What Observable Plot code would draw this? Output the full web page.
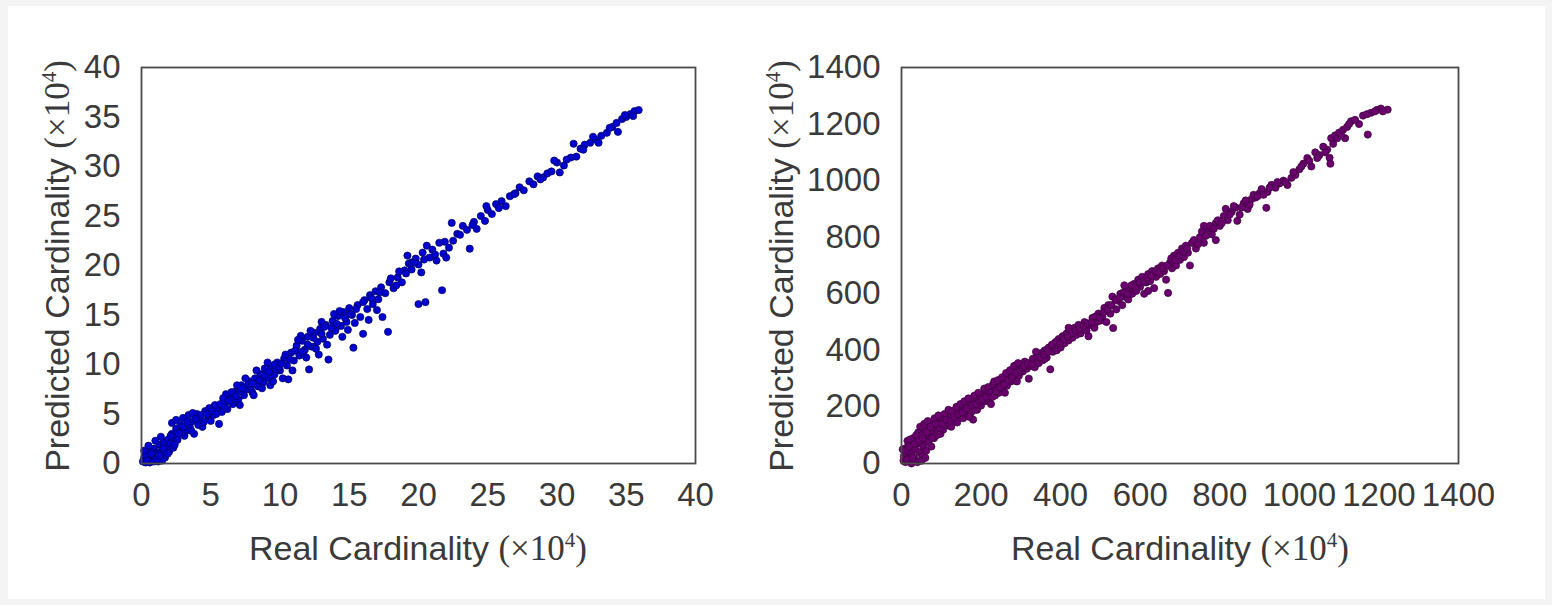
<!DOCTYPE html>
<html>
<head>
<meta charset="utf-8">
<script src="https://cdn.jsdelivr.net/npm/d3@7"></script>
<script src="https://cdn.jsdelivr.net/npm/@observablehq/plot@0.6"></script>
<style>
  html, body { margin: 0; padding: 0; background: #f4f4f4; }
  #page { position: relative; width: 1552px; height: 605px; overflow: hidden; }
  #card { position: absolute; left: 8px; top: 6px; width: 1537px; height: 593px; background: #fff; }
  .chart { position: absolute; top: 0; }
  .lab { position: absolute; font-family: 'Liberation Sans', Arial, sans-serif; font-size: 34px; color: #3a3a3a; white-space: nowrap; line-height: 1; }
  .lab .tex { font-family: 'Liberation Serif', 'DejaVu Serif', serif; font-size: 35px; }
  .lab .sup { font-size: 21px; position: relative; top: -13px; }
  .xlab { transform: translate(-50%, -50%); }
  .ylab { transform: translate(-50%, -50%) rotate(-90deg); }
</style>
</head>
<body>
<div id="page">
  <div id="card"></div>
  <div id="left" class="chart" style="left:0px"></div>
  <div id="right" class="chart" style="left:776px"></div>
</div>
<script>
// ---- data (units: ×10^4) ----
const leftTicks = [0, 5, 10, 15, 20, 25, 30, 35, 40];
const rightTicks = [0, 200, 400, 600, 800, 1000, 1200, 1400];

// [real, predicted] pairs, left panel
const leftPoints = [
  [0.1,0.2],[0.2,0.6],[0.3,0.1],[0.4,0.9],[0.5,0.4],[0.6,1.2],[0.7,0.3],[0.8,0.8],[0.9,1.5],[1.0,0.5],
  [1.1,1.1],[1.2,0.2],[1.3,1.9],[1.4,0.9],[1.5,1.4],[1.6,2.1],[1.7,0.6],[1.8,1.6],[1.9,2.4],[2.0,1.2],
  [2.1,2.0],[2.2,3.0],[2.3,1.6],[2.4,2.6],[2.5,3.5],[0.3,0.7],[0.6,0.1],[0.9,0.2],[1.2,1.0],[1.5,0.3],
  [0.2,1.3],[0.5,1.8],[1.0,2.3],[1.4,2.7],[0.8,1.1],[1.7,1.2],
  [2.2,4.1],[2.5,4.4],[2.8,3.9],[3.0,4.6],[3.2,3.3],[3.4,4.9],[3.6,4.2],[3.8,3.0],[4.0,5.0],[4.2,4.4],
  [4.4,3.7],[4.6,5.3],[4.8,4.8],[5.0,4.3],[2.6,2.4],[3.1,2.8],[3.5,3.6],[2.9,3.2],[4.1,3.9],[4.9,5.6],
  [5.2,4.9],[5.6,4.0],[3.7,5.1],
  [5.5,5.6],[5.8,5.2],[6.0,6.2],[6.2,5.5],[6.4,6.8],[6.6,6.0],[6.8,7.3],[7.0,6.5],[7.2,7.9],[7.4,6.9],
  [7.6,7.5],[7.8,8.3],[8.0,7.2],[8.2,8.6],[8.4,7.8],[8.6,9.0],[8.8,8.2],[9.0,9.4],[9.2,8.6],[9.4,9.8],
  [9.6,9.0],[9.8,10.2],[10.0,9.4],[6.1,7.0],[6.9,7.9],[7.5,8.6],[8.3,9.4],[9.1,10.2],[7.1,5.9],[8.1,6.9],
  [9.3,7.9],[6.7,6.5],[7.9,7.8],[8.9,8.9],[9.7,9.5],[5.3,5.9],[5.9,6.6],[9.5,8.3],[8.7,7.6],[10.2,8.6],
  [10.3,10.6],[10.5,9.9],[10.6,8.5],[10.8,11.2],[11.0,10.4],[11.2,11.9],[11.4,10.9],[11.6,12.4],[11.8,11.5],[12.0,12.8],
  [12.1,9.5],[12.3,11.8],[12.5,13.2],[12.7,12.3],[12.9,13.6],[13.1,12.6],[13.3,14.0],[13.5,10.5],[13.6,13.0],[13.8,14.4],
  [14.0,13.4],[14.2,14.9],[14.4,13.9],[14.6,15.3],[14.8,14.3],[15.0,15.7],[15.3,11.7],[11.5,12.9],[12.2,13.4],[13.0,14.3],
  [13.9,15.1],[14.5,12.8],[11.9,10.7],[12.8,11.0],[10.9,9.4],[13.4,12.0],[14.9,13.5],[11.7,11.0],[15.2,15.0],[15.4,14.2],
  [15.6,16.0],[15.8,14.8],[16.0,13.1],[16.1,16.5],[16.3,15.6],[16.5,17.0],[16.7,16.1],[16.9,17.4],[17.1,16.6],[17.4,14.8],
  [17.3,17.8],[17.6,17.2],[17.8,13.3],[17.9,18.3],[18.2,17.7],[18.5,18.8],[18.8,18.3],[19.0,19.5],[19.3,20.2],[19.5,19.6],
  [19.8,20.7],[20.0,20.1],[19.2,21.0],[18.6,19.4],[16.4,14.5],[17.0,15.5],
  [20.0,16.1],[20.5,16.3],[21.7,17.5],[19.5,20.3],[20.3,21.3],[20.6,22.0],[21.0,21.6],[21.3,20.5],[21.5,22.3],[21.8,21.2],
  [22.2,21.8],[20.8,20.8],[22.5,22.5],[22.0,20.8],[20.2,19.3],
  [22.8,23.2],[23.2,24.0],[23.7,21.7],[24.0,24.4],[24.2,23.7],[23.5,23.6],[24.5,25.0],[24.8,24.5],[25.0,25.6],[25.3,25.2],
  [25.6,26.2],[26.0,26.5],[26.3,26.0],[26.6,27.0],[27.0,27.3],[22.4,24.3],[24.9,26.0],
  [27.3,27.9],[27.6,27.6],[28.0,28.5],[28.3,28.2],[28.6,29.0],[29.0,28.9],[29.3,29.3],[29.6,29.5],[30.0,30.4],[30.5,30.1],
  [31.0,30.9],[31.2,32.3],[31.4,31.0],[31.7,31.8],[32.0,32.2],[32.4,32.4],[32.8,32.7],[33.2,33.1],[33.6,33.4],[34.0,34.0],
  [34.4,33.5],[34.3,34.4],[34.7,34.8],[35.0,35.0],[35.3,35.3],[35.6,35.6],[35.9,35.7],[35.5,35.1],[32.6,33.0],[29.8,30.6],
  [30.2,29.4],[33.0,32.4],
  [0.4,0.3],[0.7,1.0],[1.1,0.4],[1.3,0.8],[1.6,1.5],[1.9,1.0],[2.1,2.8],[2.4,1.9],[2.7,3.0],[3.0,3.7],
  [3.3,4.2],[3.6,3.3],[3.9,4.5],[4.3,4.9],[4.5,4.2],[4.7,5.0],[5.1,5.3],[5.4,5.0],[5.7,6.0],[6.0,5.7],
  [6.3,6.3],[6.5,7.2],[6.8,6.8],[7.1,7.3],[7.3,7.6],[7.7,8.0],[8.0,8.1],[8.5,8.4],[8.9,9.6],[9.2,9.3],
  [9.6,10.0],[9.9,9.7],[10.1,10.1],[10.4,11.0],[10.7,10.5],[11.1,11.4],[11.3,12.5],[11.6,11.3],[12.0,12.0],[12.4,12.7],
  [12.6,11.6],[13.0,13.1],[13.2,13.8],[13.7,13.7],[14.1,14.1],[14.3,15.4],[14.7,14.7],[15.1,15.1],[15.5,15.6],[16.0,16.3],
  [16.6,16.7],[17.2,17.3],[18.0,18.7],[18.4,18.0],[19.1,19.2],[19.7,20.3],[20.4,20.6],[21.2,21.1],[21.9,22.4],[23.0,23.1],
  [23.9,24.1],[25.8,25.8],[26.9,27.2],[28.8,28.7],[30.7,30.7],[31.9,31.7],[33.8,33.9],[34.9,35.2]
];

// [real, predicted] pairs, right panel
const rightPoints = [
  [5,10],[8,30],[10,5],[12,55],[15,20],[18,40],[20,70],[22,10],[25,35],[28,60],[30,90],[32,20],[35,50],[38,80],[40,5],
  [42,110],[45,40],[48,70],[50,100],[52,25],[55,60],[58,120],[60,85],[62,45],[65,105],[68,75],[70,130],[72,95],[75,60],
  [78,115],[80,140],[82,90],[85,125],[88,100],[90,150],[92,115],[95,135],[98,105],[100,160],[3,50],[15,80],[25,0],[50,10],[60,20],
  [105,120],[110,150],[115,135],[120,170],[125,130],[130,160],[135,185],[140,145],[145,170],[150,190],[155,160],[160,200],
  [165,175],[170,210],[175,180],[180,155],[185,220],[190,190],[195,230],[200,205],[205,245],[210,220],[215,255],[220,230],
  [225,210],[230,260],[235,240],[240,275],[245,250],[250,290],[255,265],[260,300],[265,275],[270,310],[275,290],[280,325],
  [285,300],[290,340],[295,310],[300,350],[170,165],[230,280],[260,250],[290,290],[125,165],[200,240],[185,190],
  [305,325],[310,360],[315,335],[320,300],[325,345],[330,370],[335,340],[340,380],[345,355],[350,390],[355,365],[360,400],
  [365,375],[370,410],[374,333],[380,395],[385,425],[390,400],[395,440],[400,410],[405,450],[410,425],[415,460],[420,435],
  [425,470],[430,445],[435,480],[440,455],[445,490],[450,460],[455,475],[460,500],[465,470],[470,450],[475,490],[480,515],
  [485,480],[490,500],[495,530],[500,505],[420,480],[360,370],
  [505,520],[510,550],[515,500],[520,560],[525,530],[530,590],[532,479],[540,545],[545,575],[550,600],[555,560],[560,590],
  [565,615],[570,580],[575,620],[580,600],[585,635],[590,610],[595,650],[600,625],[605,660],[610,600],[615,640],[620,670],
  [625,645],[630,680],[635,620],[640,660],[645,690],[650,670],[655,700],[660,680],[665,650],[670,603],[675,710],[680,690],
  [685,735],[690,700],[695,745],[700,720],[560,630],[620,610],
  [705,760],[710,730],[715,770],[720,745],[725,700],[730,780],[740,760],[750,800],[760,780],[770,830],[780,810],[790,850],
  [800,840],[810,875],[815,900],[820,860],[830,890],[840,905],[844,858],[850,880],[860,920],[870,900],[880,935],[890,940],
  [900,955],[760,840],[790,790],
  [905,970],[917,904],[920,960],[930,985],[940,975],[950,990],[960,1000],[970,985],[980,1010],[990,1020],[1000,1040],
  [1010,1060],[1020,1080],[1030,1050],[1040,1100],[1050,1090],[1060,1120],[1070,1110],[1076,1081],[1078,1060],[1080,1150],
  [1085,1130],[1090,1160],[1100,1170],[1110,1180],[1115,1150],[1120,1190],[1130,1210],[1150,1200],[1160,1230],[1172,1163],
  [1180,1240],[1195,1250],[1205,1255],[1222,1251],
  [6,25],[10,45],[14,15],[18,60],[22,85],[27,20],[33,70],[37,100],[44,80],[47,130],[53,90],[57,140],[63,110],[66,150],
  [73,130],[77,90],[83,160],[87,140],[93,170],[97,125],[103,140],[108,175],[113,155],[118,190],[123,150],[128,185],
  [133,165],[138,200],[143,175],[148,210],[153,180],[158,220],[163,195],[168,230],[178,205],[183,240],[188,210],[193,250],
  [198,220],[203,225],[208,265],[213,235],[218,270],[223,250],[228,235],[233,290],[238,255],[243,295],[248,270],[253,305],
  [258,280],[263,320],[268,295],[273,330],[278,305],[283,345],[288,320],[293,355],[298,330],[303,340],[308,345],[318,355],
  [328,350],[338,395],[348,375],[358,385],[368,395],[378,420],[388,430],[398,425],[408,440],[418,450],[428,460],[438,470],
  [448,475],[458,485],[468,495],[478,500],[488,520],[498,515],[508,535],[518,545],[528,560],[538,580],[548,585],[558,605],
  [568,600],[578,630],[588,625],[598,640],[608,645],[618,655],[628,665],[638,680],[648,675],[658,690],[668,700],[678,725],
  [688,720],[698,735],[708,750],[718,760],[735,790],[745,775],[755,820],[765,805],[775,840],[785,830],[795,860],[805,850],
  [825,880],[835,910],[855,905],[865,930],[875,915],[885,950],[895,945],[910,950],[925,975],[945,995],[965,995],[985,1030],
  [1005,1050],[1025,1070],[1045,1080],[1065,1100],[1095,1150],[1105,1160],[1125,1200],[1140,1215],[1170,1235],[1190,1245],[1210,1245]
];

function makeChart(points, ticks, domainMax, fill, stroke, mLeft, mRight) {
  const data = points.map(([x, y]) => ({x, y}));
  return Plot.plot({
    width: 776,
    height: 605,
    marginLeft: mLeft,
    marginRight: mRight,
    marginTop: 67,
    marginBottom: 142,
    style: {
      background: "transparent",
      fontFamily: "'Liberation Sans', Arial, sans-serif",
      fontSize: "33px",
      color: "#3a3a3a",
      overflow: "visible"
    },
    x: {domain: [0, domainMax], ticks: ticks, tickFormat: d => String(d), tickSize: 0, tickPadding: 19, label: null},
    y: {domain: [0, domainMax], ticks: ticks, tickFormat: d => String(d), tickSize: 0, tickPadding: 21, label: null},
    marks: [
      Plot.dot(data, {x: "x", y: "y", r: 3.6, fill: fill, stroke: stroke, strokeWidth: 0.7}),
      Plot.frame({stroke: "#4a4a4a", strokeWidth: 1.8})
    ]
  });
}

document.getElementById("left").append(
  makeChart(leftPoints, leftTicks, 40, "#0000d0", "#00005a", 141, 81)
);
document.getElementById("right").append(
  makeChart(rightPoints, rightTicks, 1400, "#6a006e", "#3a003a", 125, 94)
);

const page = document.getElementById("page");
function addLabel(cls, x, y) {
  const d = document.createElement("div");
  d.className = "lab " + cls;
  d.style.left = x + "px";
  d.style.top = y + "px";
  const word = cls === "ylab" ? "Predicted Cardinality" : "Real Cardinality";
  d.innerHTML = word + ' <span class="tex">(×10<span class="sup">4</span>)</span>';
  page.append(d);
}
addLabel("xlab", 418, 548);
addLabel("xlab", 1180, 548);
addLabel("ylab", 57, 266);
addLabel("ylab", 781, 266);
</script>
</body>
</html>
